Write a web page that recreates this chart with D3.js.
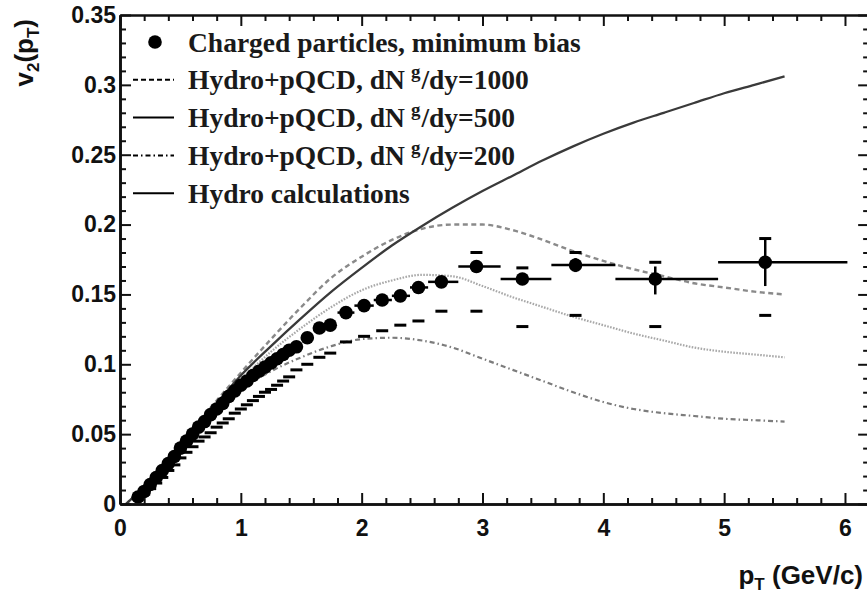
<!DOCTYPE html>
<html>
<head>
<meta charset="utf-8">
<script src="https://cdn.jsdelivr.net/npm/d3@7"></script>
<style>
  body { margin: 0; background: #fff; }
  svg { display: block; }
</style>
</head>
<body>
<svg id="chart" width="867" height="599"></svg>
<script>
// ---------------- model curves: v2 versus pT ----------------
const curvePt = [0.05, 0.25, 0.5, 0.75, 1.0, 1.25, 1.5, 1.75, 2.0, 2.25, 2.5, 2.75,
                 3.0, 3.25, 3.5, 3.75, 4.0, 4.25, 4.5, 4.75, 5.0, 5.25, 5.5];
const hydroV2 = [0.0, 0.017, 0.042, 0.067, 0.092, 0.113, 0.133, 0.152, 0.169, 0.185, 0.199, 0.212,
                 0.224, 0.235, 0.246, 0.256, 0.265, 0.273, 0.280, 0.287, 0.294, 0.300, 0.306];
const pqcd1000V2 = [0.0, 0.018, 0.043, 0.069, 0.094, 0.118, 0.141, 0.162, 0.177, 0.189, 0.197, 0.200,
                    0.200, 0.196, 0.189, 0.181, 0.174, 0.168, 0.163, 0.158, 0.155, 0.152, 0.150];
const pqcd500V2 = [0.0, 0.017, 0.042, 0.066, 0.089, 0.109, 0.126, 0.141, 0.153, 0.160, 0.164, 0.163,
                   0.156, 0.148, 0.141, 0.134, 0.128, 0.122, 0.117, 0.112, 0.109, 0.107, 0.105];
const pqcd200V2 = [0.0, 0.017, 0.041, 0.063, 0.082, 0.095, 0.105, 0.113, 0.118, 0.119, 0.117, 0.112,
                   0.104, 0.096, 0.088, 0.080, 0.073, 0.068, 0.065, 0.063, 0.061, 0.060, 0.059];

// ---------------- charged particles, minimum bias ----------------
// low pT: dense points with lower systematic marks
const lowPt = [0.15, 0.20, 0.25, 0.30, 0.35, 0.40, 0.45, 0.50, 0.55, 0.60, 0.65, 0.70, 0.75,
               0.80, 0.85, 0.90, 0.95, 1.00, 1.05, 1.10, 1.15, 1.20, 1.25, 1.30, 1.35, 1.40];
const lowV2 = [0.005, 0.009, 0.014, 0.019, 0.024, 0.029, 0.034, 0.040, 0.045, 0.050, 0.055, 0.059, 0.064,
               0.068, 0.072, 0.077, 0.081, 0.085, 0.088, 0.092, 0.095, 0.098, 0.101, 0.104, 0.107, 0.110];
const lowSysLow = [0.004, 0.007, 0.011, 0.015, 0.019, 0.024, 0.028, 0.033, 0.037, 0.041, 0.045, 0.048, 0.051,
                   0.055, 0.058, 0.061, 0.065, 0.068, 0.071, 0.074, 0.077, 0.080, 0.082, 0.085, 0.088, 0.091];

// intermediate pT
const midPt = [1.46, 1.55, 1.65, 1.74, 1.87, 2.02, 2.17, 2.32, 2.47, 2.66];
const midV2 = [0.1125, 0.119, 0.126, 0.128, 0.137, 0.142, 0.146, 0.149, 0.155, 0.159];
const midSysLow = [0.096, 0.100, 0.105, 0.108, 0.116, 0.120, 0.124, 0.128, 0.131, 0.138];
const midBinLow = [null, null, null, null, 1.80, 1.94, 2.10, 2.25, 2.40, 2.55];
const midBinHigh = [null, null, null, null, 1.94, 2.10, 2.25, 2.40, 2.55, 2.80];

// high pT: wide bins
const highPt = [2.95, 3.33, 3.77, 4.43, 5.34];
const highV2 = [0.170, 0.161, 0.171, 0.161, 0.173];
const highBinLow = [2.80, 3.15, 3.57, 4.10, 4.95];
const highBinHigh = [3.15, 3.57, 4.10, 4.95, 6.02];
const highStatLow = [0.166, 0.157, 0.166, 0.150, 0.156];
const highStatHigh = [0.174, 0.165, 0.176, 0.170, 0.190];
const highSysLow = [0.138, 0.127, 0.135, 0.127, 0.135];
const highSysHigh = [0.180, 0.169, 0.180, 0.173, 0.190];

// ---------------- axes and legend text ----------------
const xMajorTicks = [0, 1, 2, 3, 4, 5, 6];
const yMajorTicks = [0, 0.05, 0.1, 0.15, 0.2, 0.25, 0.3, 0.35];
const legendLabels = [
  "Charged particles, minimum bias",
  "Hydro+pQCD, dN^g/dy=1000",
  "Hydro+pQCD, dN^g/dy=500",
  "Hydro+pQCD, dN^g/dy=200",
  "Hydro calculations"
];
const legendKinds = ["marker", "dash", "solid", "dashdot", "solid"];

// ---------------- drawing ----------------
const svg = d3.select("#chart");
const x = d3.scaleLinear().domain([0, 6.2]).range([120, 120 + 6.2 * 120.83]);
const y = d3.scaleLinear().domain([0, 0.35]).range([504, 15]);

const sansBold = "'Liberation Sans', Arial, Helvetica, sans-serif";
const serifBold = "'Liberation Serif', 'Times New Roman', Times, serif";
const ink = "#111";

// model curves
const line = d3.line().x(d => x(d[0])).y(d => y(d[1])).curve(d3.curveMonotoneX);
const curves = [
  { v: pqcd200V2, color: "#7c7c7c", dash: "5,3,1.5,3", width: 2.2 },
  { v: pqcd500V2, color: "#a8a8a8", dash: "1.6,1.4", width: 2.2 },
  { v: pqcd1000V2, color: "#8a8a8a", dash: "5,3.5", width: 2.4 },
  { v: hydroV2, color: "#3a3a3a", dash: null, width: 2.3 }
];
const curveG = svg.append("g");
curves.forEach(c => {
  curveG.append("path")
    .datum(curvePt.map((p, i) => [p, c.v[i]]))
    .attr("d", line)
    .attr("fill", "none")
    .attr("stroke", c.color)
    .attr("stroke-width", c.width)
    .attr("stroke-dasharray", c.dash);
});

// data: systematic marks, error bars, markers
const dataG = svg.append("g").attr("stroke", "#000");
const capHalf = 6;

function capMark(pt, v) {
  dataG.append("line")
    .attr("x1", x(pt) - capHalf).attr("x2", x(pt) + capHalf)
    .attr("y1", y(v)).attr("y2", y(v))
    .attr("stroke-width", 3);
}

lowPt.forEach((p, i) => capMark(p, lowSysLow[i]));
midPt.forEach((p, i) => {
  capMark(p, midSysLow[i]);
  if (midBinLow[i] !== null) {
    dataG.append("line")
      .attr("x1", x(midBinLow[i])).attr("x2", x(midBinHigh[i]))
      .attr("y1", y(midV2[i])).attr("y2", y(midV2[i]))
      .attr("stroke-width", 2.5);
  }
});
highPt.forEach((p, i) => {
  capMark(p, highSysLow[i]);
  capMark(p, highSysHigh[i]);
  dataG.append("line")
    .attr("x1", x(highBinLow[i])).attr("x2", x(highBinHigh[i]))
    .attr("y1", y(highV2[i])).attr("y2", y(highV2[i]))
    .attr("stroke-width", 2.5);
  dataG.append("line")
    .attr("x1", x(p)).attr("x2", x(p))
    .attr("y1", y(highStatLow[i])).attr("y2", y(highStatHigh[i]))
    .attr("stroke-width", 2.5);
});

const markers = []
  .concat(lowPt.map((p, i) => [p, lowV2[i]]))
  .concat(midPt.map((p, i) => [p, midV2[i]]))
  .concat(highPt.map((p, i) => [p, highV2[i]]));
svg.append("g").selectAll("circle")
  .data(markers)
  .join("circle")
  .attr("cx", d => x(d[0]))
  .attr("cy", d => y(d[1]))
  .attr("r", 6.8)
  .attr("fill", "#000");

// axes: ticks pointing inward on all four sides
function styleAxis(g, width) {
  g.select(".domain").attr("stroke", ink).attr("stroke-width", width);
  g.selectAll(".tick line").attr("stroke", ink).attr("stroke-width", 2);
  g.selectAll(".tick text").attr("fill", ink)
    .style("font-family", sansBold).style("font-weight", "bold").style("font-size", "23px");
}
const xMinor = d3.range(0, 6.21, 0.2).filter(v => Math.abs(v - Math.round(v)) > 1e-6);
const yMinor = d3.range(0, 0.351, 0.01).filter(v => Math.abs(v * 20 - Math.round(v * 20)) > 1e-6);
const yFmt = d => String(+d.toFixed(2));

const axisBottomG = svg.append("g").attr("transform", "translate(0,504)");
axisBottomG.append("g").call(d3.axisBottom(x).tickValues(xMinor).tickSize(-6).tickSizeOuter(0).tickFormat(""))
  .call(g => styleAxis(g, 2.6));
axisBottomG.append("g").call(d3.axisBottom(x).tickValues(xMajorTicks).tickSize(-11).tickSizeOuter(0).tickPadding(16).tickFormat(d3.format("d")))
  .call(g => styleAxis(g, 2.6));

const axisTopG = svg.append("g").attr("transform", "translate(0,15)");
axisTopG.append("g").call(d3.axisTop(x).tickValues(xMinor).tickSize(-6).tickSizeOuter(0).tickFormat(""))
  .call(g => styleAxis(g, 2.2));
axisTopG.append("g").call(d3.axisTop(x).tickValues(xMajorTicks).tickSize(-11).tickSizeOuter(0).tickFormat(""))
  .call(g => styleAxis(g, 2.2));

const axisLeftG = svg.append("g").attr("transform", "translate(120,0)");
axisLeftG.append("g").call(d3.axisLeft(y).tickValues(yMinor).tickSize(-6).tickSizeOuter(0).tickFormat(""))
  .call(g => styleAxis(g, 2.6));
axisLeftG.append("g").call(d3.axisLeft(y).tickValues(yMajorTicks).tickSize(-11).tickSizeOuter(0).tickPadding(4).tickFormat(yFmt))
  .call(g => styleAxis(g, 2.6));

const axisRightG = svg.append("g").attr("transform", `translate(${x(6.2)},0)`);
axisRightG.append("g").call(d3.axisRight(y).tickValues(yMinor).tickSize(-6).tickSizeOuter(0).tickFormat(""))
  .call(g => styleAxis(g, 2.2));
axisRightG.append("g").call(d3.axisRight(y).tickValues(yMajorTicks).tickSize(-11).tickSizeOuter(0).tickFormat(""))
  .call(g => styleAxis(g, 2.2));

// axis titles
const yTitle = svg.append("text")
  .attr("transform", "translate(33,19) rotate(-90)")
  .attr("text-anchor", "end")
  .attr("fill", ink)
  .style("font-family", sansBold).style("font-weight", "bold").style("font-size", "26px");
yTitle.append("tspan").text("v");
yTitle.append("tspan").attr("dy", 6).style("font-size", "17px").text("2");
yTitle.append("tspan").attr("dy", -6).text("(p");
yTitle.append("tspan").attr("dy", 6).style("font-size", "17px").text("T");
yTitle.append("tspan").attr("dy", -6).text(")");

const xTitle = svg.append("text")
  .attr("x", 863).attr("y", 584)
  .attr("text-anchor", "end")
  .attr("fill", ink)
  .style("font-family", sansBold).style("font-weight", "bold").style("font-size", "26px");
xTitle.append("tspan").text("p");
xTitle.append("tspan").attr("dy", 6).style("font-size", "17px").text("T");
xTitle.append("tspan").attr("dy", -6).text(" (GeV/c)");

// legend
const legend = svg.append("g");
const rowY0 = 42, rowStep = 37.8;
legendLabels.forEach((label, i) => {
  const cy = rowY0 + i * rowStep;
  const kind = legendKinds[i];
  if (kind === "marker") {
    legend.append("circle").attr("cx", 155).attr("cy", cy).attr("r", 6.8).attr("fill", "#000");
  } else {
    legend.append("line")
      .attr("x1", 133).attr("x2", 174).attr("y1", cy).attr("y2", cy)
      .attr("stroke", "#000").attr("stroke-width", 2)
      .attr("stroke-dasharray", kind === "dash" ? "5,3" : kind === "dashdot" ? "5,3,1.5,3" : null);
  }
  const t = legend.append("text")
    .attr("x", 188).attr("y", cy + 9.5)
    .attr("fill", "#1a1a1a")
    .style("font-family", serifBold).style("font-weight", "bold").style("font-size", "27.5px");
  const parts = label.split("^");
  if (parts.length === 1) {
    t.text(label);
  } else {
    t.append("tspan").text(parts[0]);
    t.append("tspan").attr("dx", 6).attr("dy", -11).style("font-size", "19px").text(parts[1].charAt(0));
    t.append("tspan").attr("dx", 1).attr("dy", 11).text(parts[1].slice(1));
  }
});
</script>
</body>
</html>
